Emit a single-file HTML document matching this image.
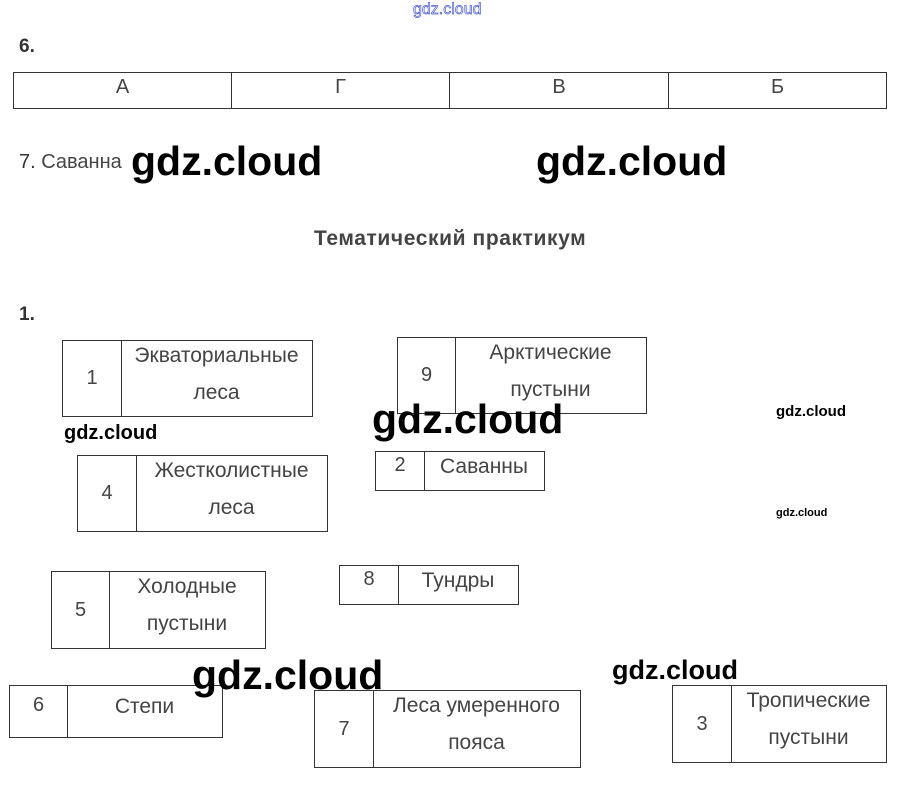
<!DOCTYPE html>
<html><head><meta charset="utf-8"><style>
body{margin:0;width:903px;height:786px;background:#fff;position:relative;overflow:hidden;font-family:"Liberation Sans",Arial,sans-serif;color:#444}
.a{position:absolute}
.b{position:absolute;border:1px solid #333;box-sizing:border-box}
.n{position:absolute;left:0;top:0;bottom:0;border-right:1px solid #333;display:flex;align-items:center;justify-content:center;font-size:20px}
.t{position:absolute;right:0;top:-4px;text-align:center;font-size:21px;line-height:37px;white-space:nowrap}
.w{position:absolute;color:#000;font-weight:bold;font-family:"Liberation Sans",sans-serif;white-space:nowrap}
table{border-collapse:collapse}
td{border:1px solid #333;text-align:center;font-size:20px;height:36px;padding:0 0 6px 0;box-sizing:border-box}
</style></head><body>
<div class="a" style="left:413px;top:1px;font-size:16px;color:#fff;-webkit-text-stroke:0.7px #4a5ad0">gdz.cloud</div>
<div class="a" style="left:19px;top:36px;font-size:19px;font-weight:bold;color:#333">6.</div>
<table class="a" style="left:13px;top:72px;width:874px"><tr><td style="width:218px">А</td><td style="width:218px">Г</td><td style="width:219px">В</td><td>Б</td></tr></table>
<div class="a" style="left:19px;top:151px;font-size:20px;color:#444"><span style="color:#333">7.</span> Саванна</div>
<div class="w" style="left:131px;top:138px;font-size:41px">gdz.cloud</div>
<div class="w" style="left:536px;top:138px;font-size:41px">gdz.cloud</div>
<div class="a" style="left:314px;top:227px;font-size:21px;font-weight:bold;color:#444;letter-spacing:0.6px">Тематический практикум</div>
<div class="a" style="left:19px;top:304px;font-size:19px;font-weight:bold;color:#333">1.</div>

<div class="b" style="left:62px;top:340px;width:251px;height:77px"><div class="n" style="width:58px">1</div><div class="t" style="left:58px">Экваториальные<br>леса</div></div>
<div class="b" style="left:397px;top:337px;width:250px;height:77px"><div class="n" style="width:57px">9</div><div class="t" style="left:57px">Арктические<br>пустыни</div></div>
<div class="b" style="left:77px;top:455px;width:251px;height:77px"><div class="n" style="width:58px">4</div><div class="t" style="left:58px">Жестколистные<br>леса</div></div>
<div class="b" style="left:375px;top:451px;width:170px;height:40px"><div class="n" style="width:48px;align-items:flex-start;padding-top:2px">2</div><div class="t" style="left:48px">Саванны</div></div>
<div class="b" style="left:51px;top:571px;width:215px;height:78px"><div class="n" style="width:57px">5</div><div class="t" style="left:57px">Холодные<br>пустыни</div></div>
<div class="b" style="left:339px;top:565px;width:180px;height:40px"><div class="n" style="width:58px;align-items:flex-start;padding-top:2px">8</div><div class="t" style="left:58px">Тундры</div></div>
<div class="b" style="left:9px;top:685px;width:214px;height:53px"><div class="n" style="width:57px;align-items:flex-start;padding-top:8px">6</div><div class="t" style="left:57px;top:2px">Степи</div></div>
<div class="b" style="left:314px;top:690px;width:267px;height:78px"><div class="n" style="width:58px">7</div><div class="t" style="left:58px">Леса умеренного<br>пояса</div></div>
<div class="b" style="left:672px;top:685px;width:215px;height:78px"><div class="n" style="width:58px">3</div><div class="t" style="left:58px">Тропические<br>пустыни</div></div>

<div class="w" style="left:64px;top:422px;font-size:20px">gdz.cloud</div>
<div class="w" style="left:372px;top:396px;font-size:41px">gdz.cloud</div>
<div class="w" style="left:776px;top:403px;font-size:15px">gdz.cloud</div>
<div class="w" style="left:776px;top:507px;font-size:11px">gdz.cloud</div>
<div class="w" style="left:192px;top:652px;font-size:41px">gdz.cloud</div>
<div class="w" style="left:612px;top:655px;font-size:27px">gdz.cloud</div>
</body></html>
